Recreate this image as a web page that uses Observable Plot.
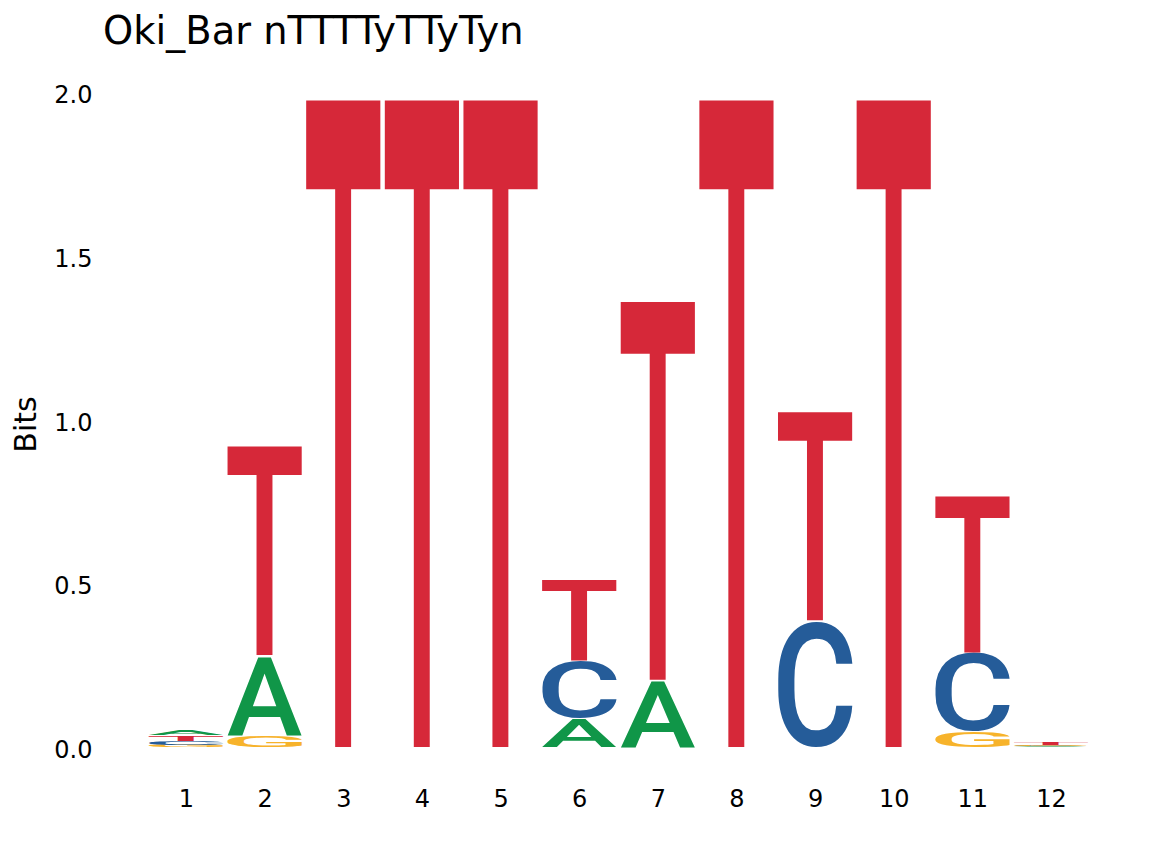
<!DOCTYPE html>
<html>
<head>
<meta charset="utf-8">
<script src="https://cdn.jsdelivr.net/npm/d3@7"></script>
<script src="https://cdn.jsdelivr.net/npm/@observablehq/plot@0.6"></script>
<style>
  body { margin: 0; background: #fff; }
  #title {
    height: 60px;
    box-sizing: border-box;
    padding: 12px 0 0 103px;
    font: 38.4px/1 "DejaVu Sans", sans-serif;
    color: #000;
  }
</style>
</head>
<body>
<div id="title">Oki_Bar nTTTTyTTyTyn</div>
<div id="chart"></div>
<script>
// information content (bits) per position
const positions = [1, 2, 3, 4, 5, 6, 7, 8, 9, 10, 11, 12];
const letters = ["A", "C", "G", "T"];
const letterColors = ["#109648", "#255C99", "#F7B32B", "#D62839"];
const bitsA = [0.019, 0.245, 0, 0, 0, 0.088, 0.205, 0, 0, 0, 0, 0.002];
const bitsC = [0.013, 0, 0, 0, 0, 0.176, 0, 0, 0.387, 0, 0.243, 0.002];
const bitsG = [0.006, 0.036, 0, 0, 0, 0, 0, 0, 0, 0, 0.048, 0.002];
const bitsT = [0.017, 0.643, 1.985, 1.985, 1.985, 0.248, 1.163, 1.985, 0.641, 1.985, 0.48, 0.006];
const yTicks = [0, 0.5, 1, 1.5, 2];

const colWidth = 0.95;

// stack letters per position, smallest at the bottom
const rows = positions.flatMap((p, i) => {
  const stack = [
    ["A", bitsA[i]], ["C", bitsC[i]], ["G", bitsG[i]], ["T", bitsT[i]]
  ].filter(d => d[1] > 0).sort((a, b) => a[1] - b[1]);
  let base = 0;
  return stack.map(([letter, h]) => {
    const r = {position: p, letter, y1: base, y2: base + h};
    base += h;
    return r;
  });
});

// glyph ink boxes, so each letter can be stretched into its rect
const FONT = 200;
const ctx = document.createElement("canvas").getContext("2d");
ctx.font = `500 ${FONT}px Roboto`;
const metrics = {};
for (const l of letters) {
  const m = ctx.measureText(l);
  metrics[l] = {
    left: m.actualBoundingBoxLeft,
    ascent: m.actualBoundingBoxAscent,
    w: m.actualBoundingBoxLeft + m.actualBoundingBoxRight,
    h: m.actualBoundingBoxAscent + m.actualBoundingBoxDescent
  };
}

function drawLetters(index, scales, values) {
  const ns = "http://www.w3.org/2000/svg";
  const g = document.createElementNS(ns, "g");
  const gap = 0.8;
  for (const i of index) {
    const d = rows[i];
    const m = metrics[d.letter];
    const x1 = Math.min(values.x1[i], values.x2[i]);
    const x2 = Math.max(values.x1[i], values.x2[i]);
    let top = Math.min(values.y1[i], values.y2[i]);
    const bottom = Math.max(values.y1[i], values.y2[i]);
    if (bottom - top > 4 && d.y2 < 1.9) top += gap;
    const sx = (x2 - x1) / m.w;
    const sy = (bottom - top) / m.h;
    const t = document.createElementNS(ns, "text");
    t.setAttribute("x", 0);
    t.setAttribute("y", 0);
    t.setAttribute("text-anchor", "start");
    t.setAttribute("font-family", "Roboto");
    t.setAttribute("font-weight", 500);
    t.setAttribute("font-size", FONT);
    t.setAttribute("fill", values.fill[i]);
    t.setAttribute("transform",
      `translate(${x1},${top}) scale(${sx},${sy}) translate(${m.left},${m.ascent})`);
    t.textContent = d.letter;
    g.appendChild(t);
  }
  return g;
}

const chart = Plot.plot({
  width: 1152,
  height: 805,
  marginTop: 32,
  marginBottom: 118,
  marginLeft: 146.68,
  marginRight: 61.68,
  style: {fontFamily: "DejaVu Sans", background: "#fff", color: "#000"},
  x: {domain: [0.5, 12.5]},
  y: {domain: [0, 2]},
  color: {domain: letters, range: letterColors},
  marks: [
    Plot.axisX({ticks: positions, tickFormat: d => String(d), tickSize: 0,
      tickPadding: 42, fontSize: 24, label: null}),
    Plot.axisY({ticks: yTicks, tickFormat: d3.format(".1f"), tickSize: 0,
      tickPadding: 54.7, fontSize: 24, dy: 3, label: null}),
    Plot.text(["Bits"], {frameAnchor: "left", textAnchor: "middle", dx: -120.7, dy: 4.5,
      rotate: -90, fontSize: 30}),
    Plot.rect(rows, {
      x1: d => d.position - colWidth / 2,
      x2: d => d.position + colWidth / 2,
      y1: "y1",
      y2: "y2",
      fill: "letter",
      render: drawLetters
    })
  ]
});
document.getElementById("chart").appendChild(chart);
</script>
</body>
</html>
